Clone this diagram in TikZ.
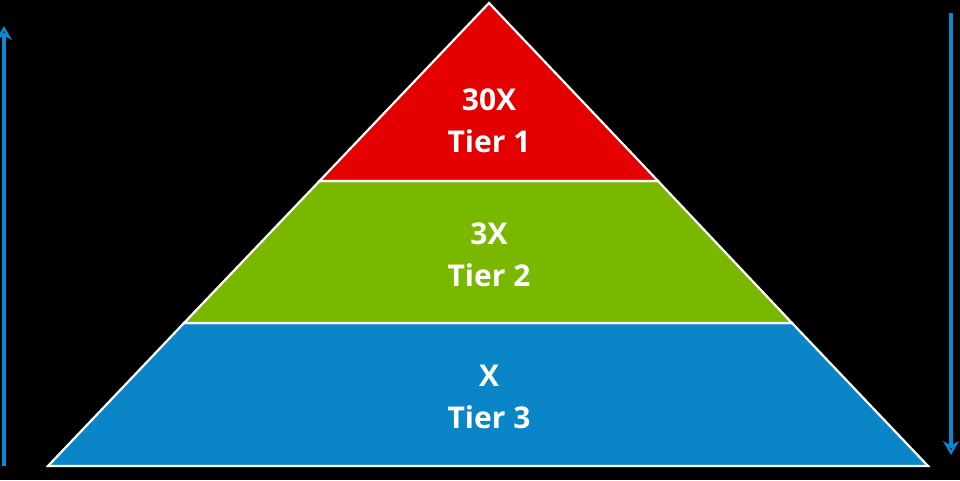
\documentclass[tikz,border=0pt]{standalone}
\usepackage{fontspec}
\setmainfont{Open Sans}
\usetikzlibrary{arrows.meta}
\definecolor{tred}{HTML}{E50000}
\definecolor{tgreen}{HTML}{7AB800}
\definecolor{tblue}{HTML}{0A86C8}
\definecolor{arr}{HTML}{0A88D2}
\begin{document}
\begin{tikzpicture}[x=1pt,y=-1pt,
  tier/.style={draw=white,line width=2.2pt,line join=miter},
  lbl/.style={text=white,font=\fontsize{30}{42}\selectfont\bfseries,align=center},
  sidearrow/.style={draw=arr,line width=4pt,-{Stealth[length=14pt,width=16pt,open,line width=4pt]}}]
\fill[black] (0,0) rectangle (960,480);
\useasboundingbox (0,0) rectangle (960,480);
\coordinate (A) at (489,3);
\coordinate (L1) at (319.5,181); \coordinate (R1) at (658,181);
\coordinate (L2) at (184,323); \coordinate (R2) at (792,323);
\coordinate (L3) at (48,466); \coordinate (R3) at (928,466);
\draw[tier,fill=tblue] (L2)--(R2)--(R3)--(L3)--cycle;
\draw[tier,fill=tgreen] (L1)--(R1)--(R2)--(L2)--cycle;
\draw[tier,fill=tred] (A)--(R1)--(L1)--cycle;
\node[lbl] (t1) at (489,121) {30X\\Tier 1};
\node[lbl] (t2) at (489,255) {3X\\Tier 2};
\node[lbl] (t3) at (489,397) {X\\Tier 3};
\coordinate (la) at (4,466); \coordinate (lb) at (4,26);
\coordinate (ra) at (951,13); \coordinate (rb) at (951,455);
\draw[sidearrow] (la) -- (lb);
\draw[sidearrow] (ra) -- (rb);
\end{tikzpicture}
\end{document}
